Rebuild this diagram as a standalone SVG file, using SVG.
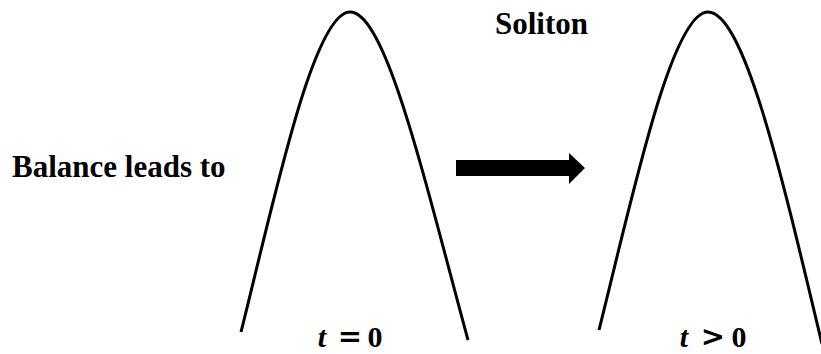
<svg xmlns="http://www.w3.org/2000/svg" width="821" height="354" viewBox="0 0 821 354">
<style>
.curve{fill:none;stroke:#000;stroke-width:3;stroke-linecap:butt}
.lbl{font-family:"Liberation Serif",serif;font-weight:bold;font-size:31px;fill:#000}
.math{font-family:"Liberation Serif",serif;font-weight:bold;font-size:30px;fill:#000;text-anchor:middle}
.op{font-family:"DejaVu Sans",sans-serif;font-weight:bold;font-size:29px;fill:#000;text-anchor:middle}
</style>
<rect width="821" height="354" fill="#fff"/>
<g id="pulse0">
<path class="curve" d="M241,332 C273,205 313,12 350,12 C386,12 424,178 468,340"/>
<text class="math" x="322" y="347" font-style="italic">t</text>
<text class="op" x="350" y="346">=</text>
<text class="math" x="375" y="347">0</text>
</g>
<g id="pulse1">
<path class="curve" d="M599,330 C631,203 671,12 708,12 C744,12 782,176 822,344"/>
<text class="math" x="684" y="347" font-style="italic">t</text>
<text class="op" x="713" y="346">&gt;</text>
<text class="math" x="739" y="347">0</text>
</g>
<g id="label-balance"><text class="lbl" x="12" y="177">Balance leads to</text></g>
<g id="label-soliton"><text class="lbl" x="495" y="34">Soliton</text></g>
<g id="connectors">
<polygon points="456,160 569,160 569,153 585,168 569,184 569,176 456,176" fill="#000"/>
</g>
</svg>
